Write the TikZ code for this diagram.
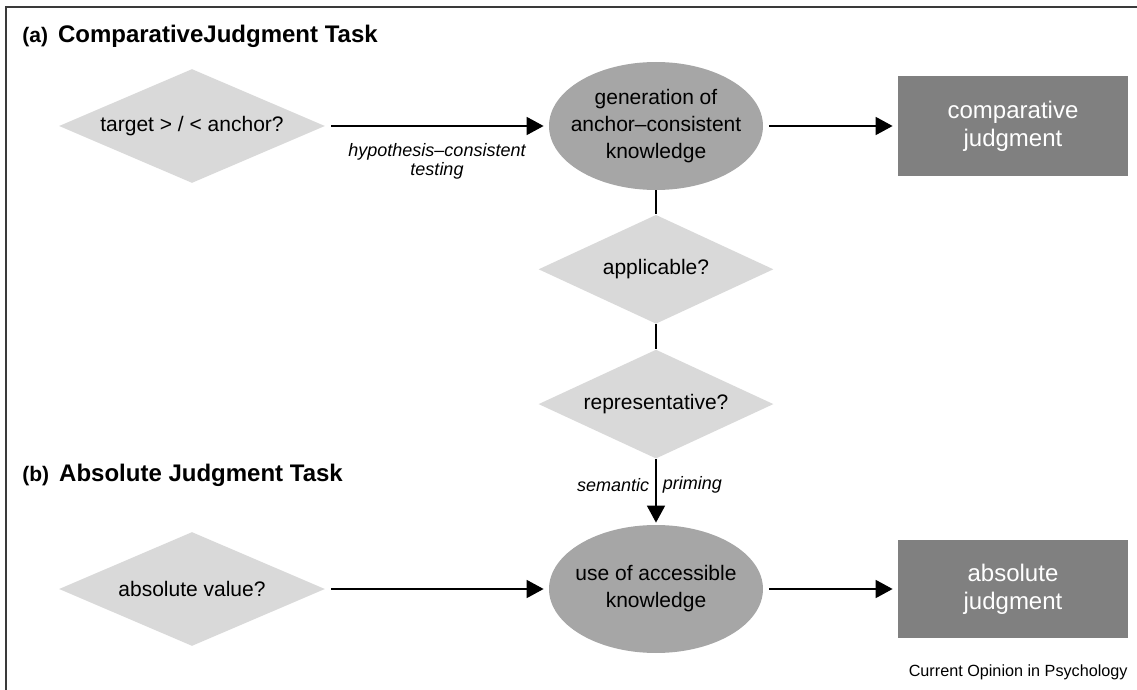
\documentclass[tikz,border=0pt]{standalone}
\usepackage{fontspec}
\setmainfont{Liberation Sans}
\usepackage{tikz}
\usetikzlibrary{arrows.meta,positioning,shapes.geometric}
\definecolor{askgray}{HTML}{D9D9D9}
\definecolor{procgray}{HTML}{A6A6A6}
\definecolor{outgray}{HTML}{808080}
\definecolor{framegray}{HTML}{3A3A3A}
\newcommand{\nodefont}{\fontsize{10.5}{13.5}\selectfont}
\tikzset{
  question/.style={
    diamond, fill=askgray, inner sep=0pt, aspect=2.33,
    minimum width=133pt, minimum height=57pt, font=\nodefont
  },
  smallquestion/.style={question, aspect=2.16, minimum width=117.5pt, minimum height=54.5pt},
  process/.style={
    ellipse, fill=procgray, inner xsep=-10.5pt, inner ysep=0pt, align=center,
    minimum width=107pt, minimum height=64pt, font=\nodefont
  },
  outcome/.style={
    rectangle, fill=outgray, text=white, align=center,
    minimum width=115pt, minimum height=50pt, font=\fontsize{12}{14}\selectfont
  },
  flowarrow/.style={-{Triangle[length=8.5pt,width=9pt]}, line width=0.9pt, shorten <=3pt, shorten >=2.5pt},
  flowline/.style={line width=0.9pt},
  edgelabel/.style={font=\fontsize{9}{9.5}\selectfont\itshape, align=center},
  tasktitle/.style={anchor=base west, inner sep=0pt, font=\bfseries},
}

\begin{document}
\begin{tikzpicture}[x=0.5pt, y=-0.5pt, node distance=12pt]
  \useasboundingbox (0,0) rectangle (1137,690);
  \draw[framegray, line width=1pt] (5.7,690) -- (5.7,7.5) -- (1137,7.5);

  % (a) comparative task
  \node[tasktitle] (titlea) at (22,43) {{\fontsize{10.5}{12}\selectfont(a)}\hspace{5pt}{\fontsize{12}{14}\selectfont ComparativeJudgment Task}};
  \node[question] (cmpq) at (192,126) {target > / < anchor?};
  \node[process] (gen) at (656,126) {generation of\\anchor--consistent\\knowledge};
  \node[outcome] (cmpj) at (1013,126) {comparative\\judgment};
  \node[smallquestion, below=of gen] (appl) {applicable?};
  \node[smallquestion, below=12.5pt of appl] (repr) {representative?};

  % (b) absolute task
  \node[tasktitle] (titleb) at (22,481) {{\fontsize{10.5}{12}\selectfont(b)}\hspace{5pt}{\fontsize{12}{14}\selectfont Absolute Judgment Task}};
  \node[question] (absq) at (192,589) {absolute value?};
  \node[process] (use) at (656,589) {use of accessible\\knowledge};
  \node[outcome, minimum height=49pt] (absj) at (1013,589) {absolute\\judgment};

  \node[anchor=base east, inner sep=0pt, font=\fontsize{8.1}{10}\selectfont] (credit) at (1128,676) {Current Opinion in Psychology};

  \draw[flowarrow] (cmpq) -- (gen)
    node[edgelabel, midway, below=5pt] {hypothesis--consistent\\testing};
  \foreach \a/\b in {gen/cmpj,absq/use,use/absj}
    \draw[flowarrow] (\a) -- (\b);
  \foreach \a/\b in {gen/appl,appl/repr}
    \draw[flowline] (\a) -- (\b);
  \draw[flowarrow, shorten <=0pt, shorten >=1pt] (repr) -- (use)
    node[edgelabel, pos=0.4, left=3pt, inner sep=0pt] {semantic}
    node[edgelabel, pos=0.4, right=3pt, inner sep=0pt] {priming};
\end{tikzpicture}
\end{document}
